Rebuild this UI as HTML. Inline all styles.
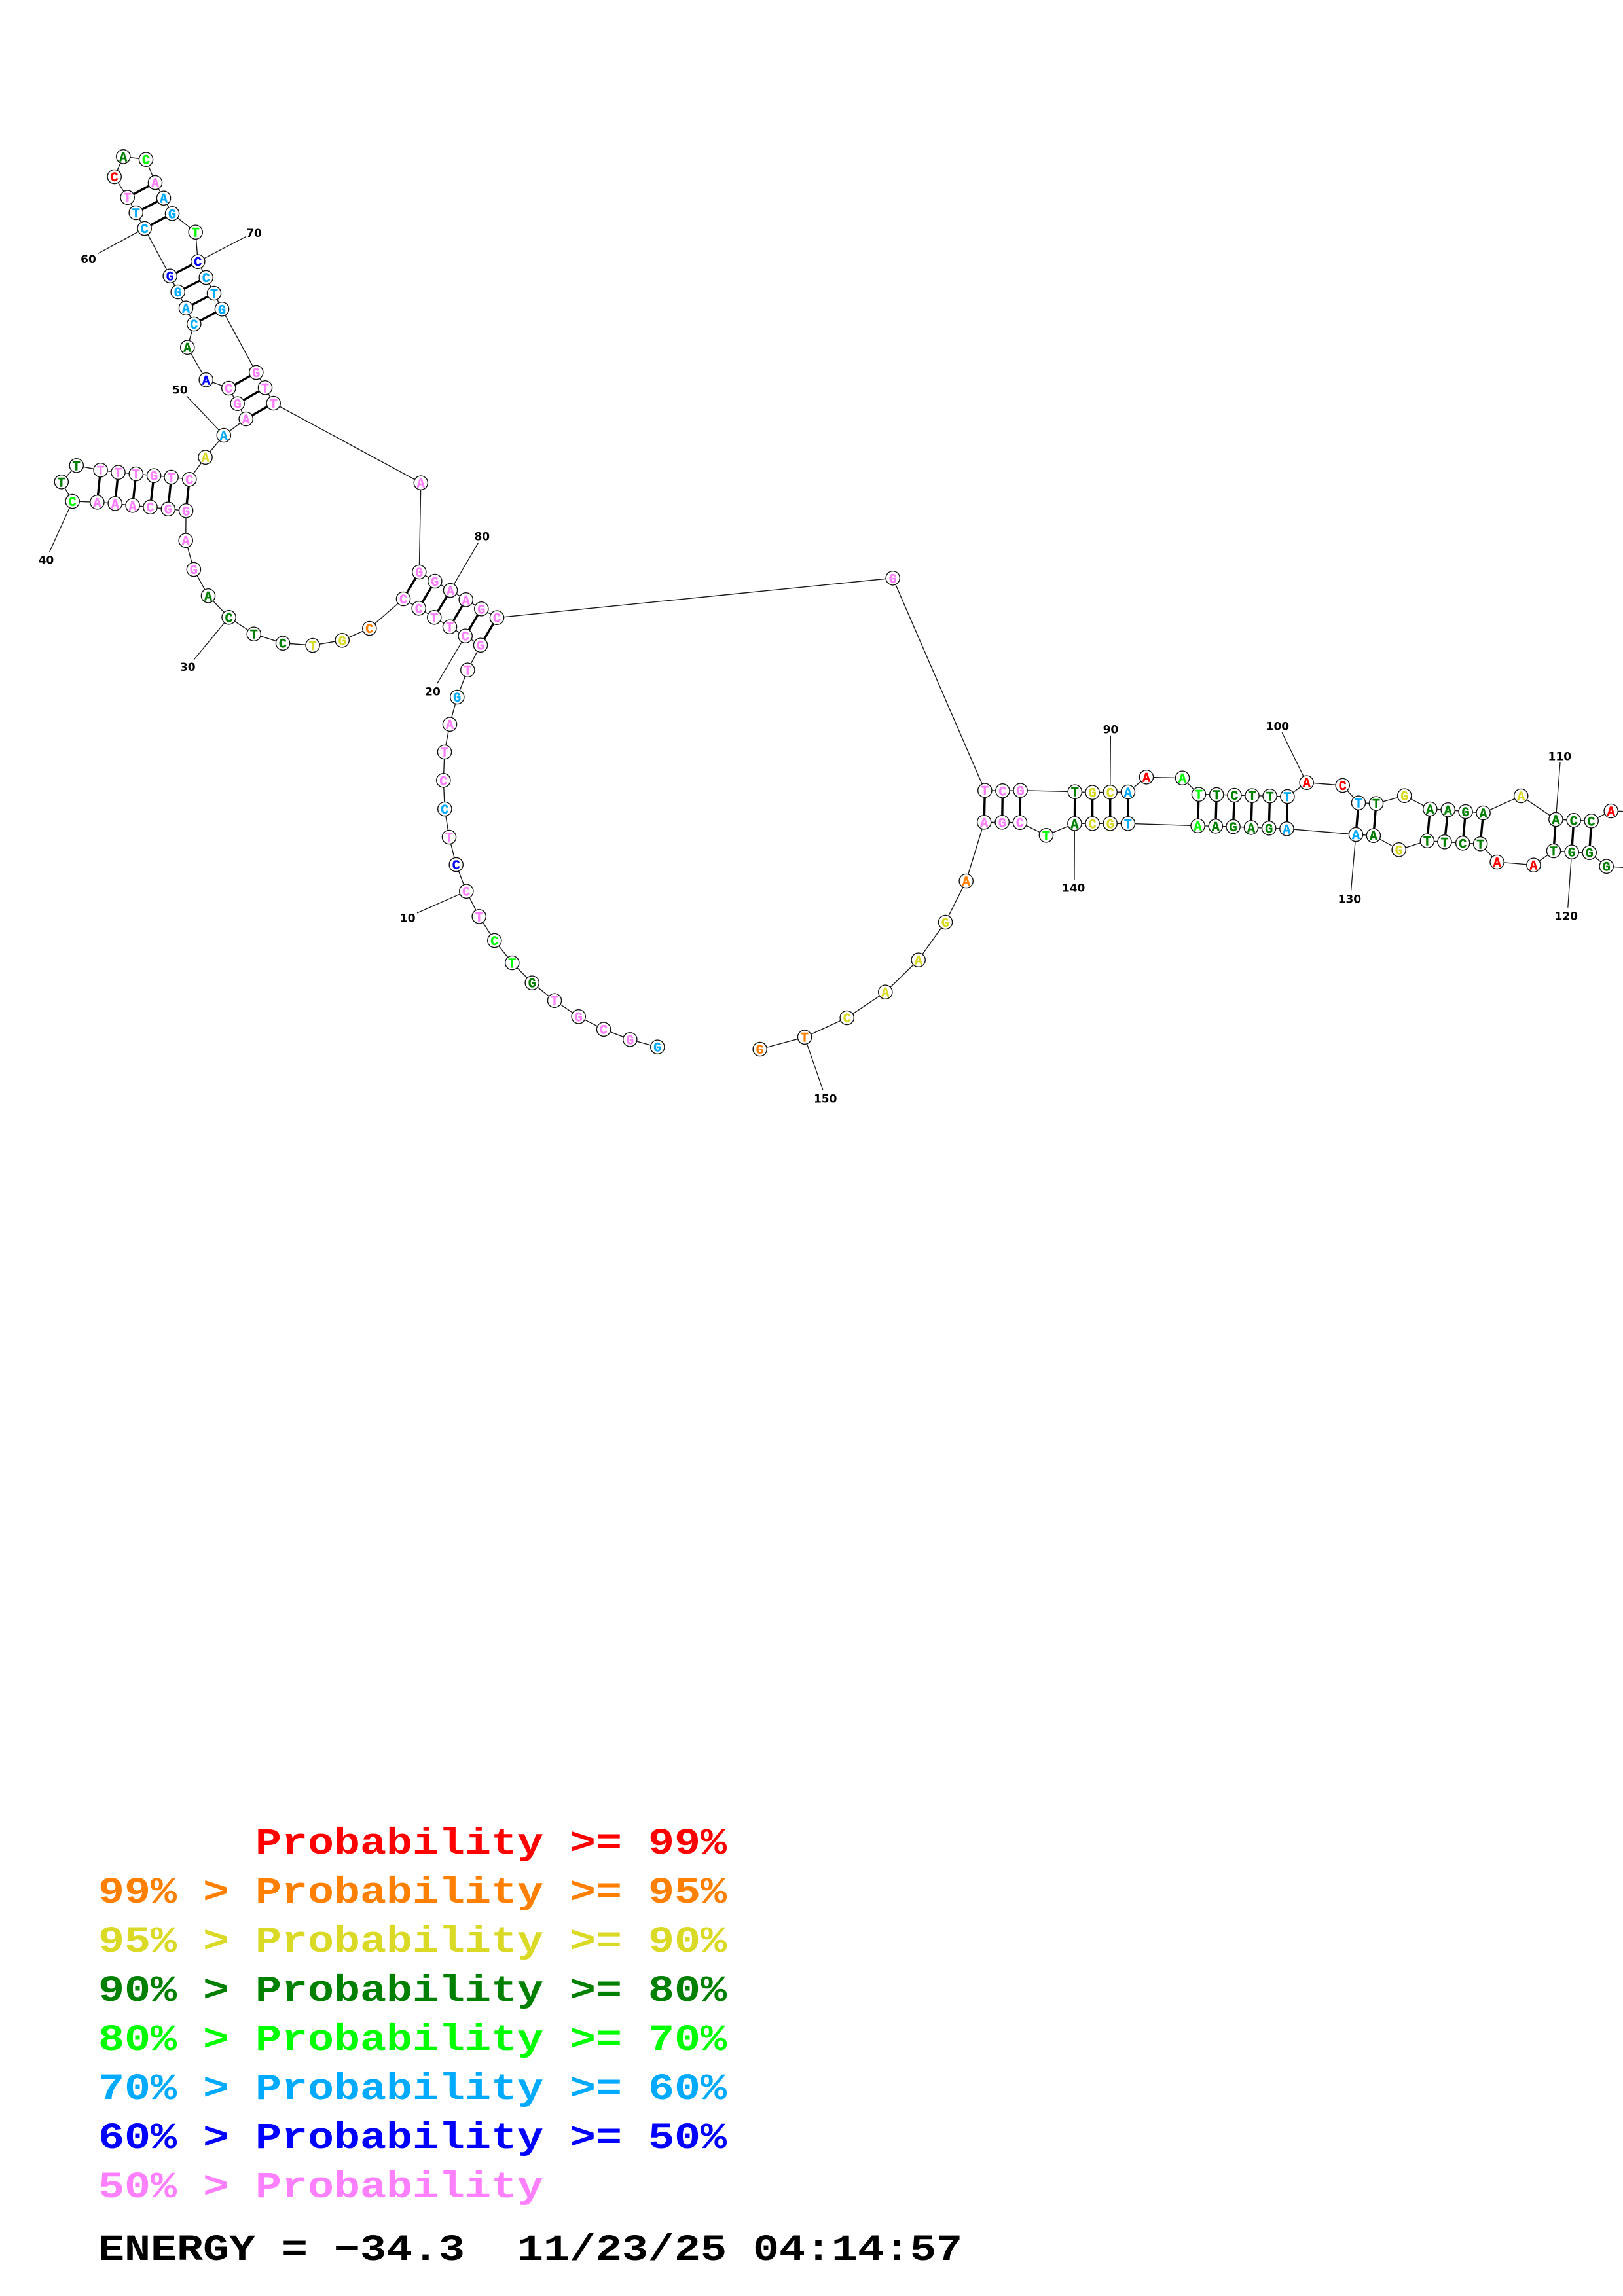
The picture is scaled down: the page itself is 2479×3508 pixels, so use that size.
<!DOCTYPE html>
<html><head><meta charset="utf-8"><title>RNA structure</title>
<style>
html,body{margin:0;padding:0;background:#fff}
svg{display:block}
.bb{fill:none;stroke:#1a1a1a;stroke-width:1.4}
.bp{stroke:#000;stroke-width:3.4;fill:none}
.tk{stroke:#1a1a1a;stroke-width:1.3;fill:none}
.n circle{fill:#fff;stroke:#111;stroke-width:1.4}
.t text{font:bold 20px "Liberation Mono",monospace;text-anchor:middle;stroke-width:.4}
.lb text{font:bold 17px "DejaVu Sans",sans-serif;text-anchor:middle;fill:#000}
.lg text{font:bold 56.6px "Liberation Mono",monospace;white-space:pre}
.r{fill:#f00;stroke:#f00}.o{fill:#ff8000;stroke:#ff8000}.y{fill:#d9d926;stroke:#d9d926}.g{fill:#008000;stroke:#008000}.l{fill:#0f0;stroke:#0f0}.c{fill:#00aaff;stroke:#00aaff}.b{fill:#00f;stroke:#00f}.p{fill:#ff80ff;stroke:#ff80ff}
.lg .r,.lg .o,.lg .y,.lg .g,.lg .l,.lg .c,.lg .b,.lg .p{stroke:none}
</style></head><body>
<svg xmlns="http://www.w3.org/2000/svg" width="2479" height="3508" viewBox="0 0 2479 3508">
<rect width="2479" height="3508" fill="#fff"/>
<polyline class="bb" points="1004.3,1599.7 962.3,1588.3 922,1572.7 883.7,1553.3 847,1528.7 812.7,1501.7 782.3,1471 755.3,1437 731.7,1400.3 712.3,1361.7 696.7,1321 686,1279 679.3,1236 677.3,1192.3 679,1149 687,1106.7 698.3,1065 714.3,1023.7 734,985.7 710.7,971.7 687,957.7 663.3,943.3 639.7,929.3 616,915 564.3,960 522.7,978.3 477.6,986 432,982.7 387.8,968.7 349.6,943.3 318,910.3 295.9,870 283.7,825.7 284.1,780.3 256.8,777.7 229.5,774.7 202.6,772.3 175.7,769.3 148.4,767.3 110.7,766 93.8,736.3 116.8,711.3 153.6,718.3 180.5,721.7 207.8,724 235.1,726.7 261.6,729 289.3,732.3 313.6,698.7 341.8,665 375.7,640 362.7,616.7 349.3,593 314.7,580.3 286.3,530.7 296.3,495 284,470.7 271.7,446 259.7,421.7 220.7,349 207.7,325 194.7,301.7 174.7,270 188.3,239.3 223,243.7 237,279 250,302.7 263,326.3 298.7,354.7 302.3,399.7 314.7,424 327,448 339,472.3 391.3,569 405,592.3 417.7,616 642.8,737.7 640.3,874 664.3,888 688,902 711.7,916.3 735.3,930.3 759,943.7 1363.7,883.3 1504.3,1207.7 1531.4,1208.3 1558.6,1207.7 1641.8,1209.7 1668.6,1210.7 1695.7,1210.3 1722.9,1210 1751,1187.3 1806,1188.7 1831,1213.7 1858.2,1214 1885.4,1215 1912.5,1215.7 1939.6,1216.3 1966.4,1217 1995.7,1195.7 2050.7,1200 2075,1226.7 2102,1227.7 2145.2,1215.7 2184.3,1236 2211.7,1237.3 2238.6,1240 2265.6,1242 2323.2,1216 2376.4,1252 2403.7,1253.3 2430.7,1254.3 2460.7,1239 2490,1240"/>
<polyline class="bb" points="2490,1326 2453.7,1323.7 2427.7,1302.7 2400.7,1301.7 2373,1300 2342.4,1321.7 2286.6,1317 2261.1,1289.3 2234.2,1288.3 2206.5,1286.3 2179.9,1284.7 2136.7,1298.3 2097.9,1276.7 2071,1275 1965.4,1266.3 1938.2,1265.3 1911,1264.3 1883.6,1263 1856.8,1262.3 1829.6,1261.7 1722.9,1258.3 1695.7,1258.3 1668.6,1258.3 1641.4,1258.3 1597.9,1276.3 1557.9,1256.7 1530.7,1256.3 1503.2,1256.3 1475.7,1346 1444,1409 1402.7,1466.7 1352.3,1515.7 1293.7,1555 1229,1584.7 1160.7,1603"/>
<path class="bp" d="M734 985.7L759 943.7M710.7 971.7L735.3 930.3M687 957.7L711.7 916.3M663.3 943.3L688 902M639.7 929.3L664.3 888M616 915L640.3 874M284.1 780.3L289.3 732.3M256.8 777.7L261.6 729M229.5 774.7L235.1 726.7M202.6 772.3L207.8 724M175.7 769.3L180.5 721.7M148.4 767.3L153.6 718.3M375.7 640L417.7 616M362.7 616.7L405 592.3M349.3 593L391.3 569M296.3 495L339 472.3M284 470.7L327 448M271.7 446L314.7 424M259.7 421.7L302.3 399.7M220.7 349L263 326.3M207.7 325L250 302.7M194.7 301.7L237 279M1504.3 1207.7L1503.2 1256.3M1531.4 1208.3L1530.7 1256.3M1558.6 1207.7L1557.9 1256.7M1641.8 1209.7L1641.4 1258.3M1668.6 1210.7V1258.3M1695.7 1210.3V1258.3M1722.9 1210V1258.3M1831 1213.7L1829.6 1261.7M1858.2 1214L1856.8 1262.3M1885.4 1215L1883.6 1263M1912.5 1215.7L1911 1264.3M1939.6 1216.3L1938.2 1265.3M1966.4 1217L1965.4 1266.3M2075 1226.7L2071 1275M2102 1227.7L2097.9 1276.7M2184.3 1236L2179.9 1284.7M2211.7 1237.3L2206.5 1286.3M2238.6 1240L2234.2 1288.3M2265.6 1242L2261.1 1289.3M2376.4 1252L2373 1300M2403.7 1253.3L2400.7 1301.7M2430.7 1254.3L2427.7 1302.7"/>
<path class="tk" d="M712.3 1361.7L637 1395M710.7 971.7L667.7 1044.3M349.6 943.3L296.7 1007.3M110.7 766L75.6 843.3M341.8 665L285.3 605.3M220.7 349L149 387.7M302.3 399.7L376 361.3M688 902L730.7 829M1695.7 1210.3L1696.4 1123.7M1995.7 1195.7L1958.2 1119.3M2376.4 1252L2383 1164.7M2400.7 1301.7L2394.8 1386.7M2071 1275L2063.6 1360.7M1641.4 1258.3L1641 1344.3M1229 1584.7L1257 1665.7"/>
<g class="n">
<circle cx="1004.3" cy="1599.7" r="10.6"/><circle cx="962.3" cy="1588.3" r="10.6"/><circle cx="922" cy="1572.7" r="10.6"/><circle cx="883.7" cy="1553.3" r="10.6"/><circle cx="847" cy="1528.7" r="10.6"/><circle cx="812.7" cy="1501.7" r="10.6"/><circle cx="782.3" cy="1471" r="10.6"/><circle cx="755.3" cy="1437" r="10.6"/><circle cx="731.7" cy="1400.3" r="10.6"/><circle cx="712.3" cy="1361.7" r="10.6"/>
<circle cx="696.7" cy="1321" r="10.6"/><circle cx="686" cy="1279" r="10.6"/><circle cx="679.3" cy="1236" r="10.6"/><circle cx="677.3" cy="1192.3" r="10.6"/><circle cx="679" cy="1149" r="10.6"/><circle cx="687" cy="1106.7" r="10.6"/><circle cx="698.3" cy="1065" r="10.6"/><circle cx="714.3" cy="1023.7" r="10.6"/><circle cx="734" cy="985.7" r="10.6"/><circle cx="710.7" cy="971.7" r="10.6"/>
<circle cx="687" cy="957.7" r="10.6"/><circle cx="663.3" cy="943.3" r="10.6"/><circle cx="639.7" cy="929.3" r="10.6"/><circle cx="616" cy="915" r="10.6"/><circle cx="564.3" cy="960" r="10.6"/><circle cx="522.7" cy="978.3" r="10.6"/><circle cx="477.6" cy="986" r="10.6"/><circle cx="432" cy="982.7" r="10.6"/><circle cx="387.8" cy="968.7" r="10.6"/><circle cx="349.6" cy="943.3" r="10.6"/>
<circle cx="318" cy="910.3" r="10.6"/><circle cx="295.9" cy="870" r="10.6"/><circle cx="283.7" cy="825.7" r="10.6"/><circle cx="284.1" cy="780.3" r="10.6"/><circle cx="256.8" cy="777.7" r="10.6"/><circle cx="229.5" cy="774.7" r="10.6"/><circle cx="202.6" cy="772.3" r="10.6"/><circle cx="175.7" cy="769.3" r="10.6"/><circle cx="148.4" cy="767.3" r="10.6"/><circle cx="110.7" cy="766" r="10.6"/>
<circle cx="93.8" cy="736.3" r="10.6"/><circle cx="116.8" cy="711.3" r="10.6"/><circle cx="153.6" cy="718.3" r="10.6"/><circle cx="180.5" cy="721.7" r="10.6"/><circle cx="207.8" cy="724" r="10.6"/><circle cx="235.1" cy="726.7" r="10.6"/><circle cx="261.6" cy="729" r="10.6"/><circle cx="289.3" cy="732.3" r="10.6"/><circle cx="313.6" cy="698.7" r="10.6"/><circle cx="341.8" cy="665" r="10.6"/>
<circle cx="375.7" cy="640" r="10.6"/><circle cx="362.7" cy="616.7" r="10.6"/><circle cx="349.3" cy="593" r="10.6"/><circle cx="314.7" cy="580.3" r="10.6"/><circle cx="286.3" cy="530.7" r="10.6"/><circle cx="296.3" cy="495" r="10.6"/><circle cx="284" cy="470.7" r="10.6"/><circle cx="271.7" cy="446" r="10.6"/><circle cx="259.7" cy="421.7" r="10.6"/><circle cx="220.7" cy="349" r="10.6"/>
<circle cx="207.7" cy="325" r="10.6"/><circle cx="194.7" cy="301.7" r="10.6"/><circle cx="174.7" cy="270" r="10.6"/><circle cx="188.3" cy="239.3" r="10.6"/><circle cx="223" cy="243.7" r="10.6"/><circle cx="237" cy="279" r="10.6"/><circle cx="250" cy="302.7" r="10.6"/><circle cx="263" cy="326.3" r="10.6"/><circle cx="298.7" cy="354.7" r="10.6"/><circle cx="302.3" cy="399.7" r="10.6"/>
<circle cx="314.7" cy="424" r="10.6"/><circle cx="327" cy="448" r="10.6"/><circle cx="339" cy="472.3" r="10.6"/><circle cx="391.3" cy="569" r="10.6"/><circle cx="405" cy="592.3" r="10.6"/><circle cx="417.7" cy="616" r="10.6"/><circle cx="642.8" cy="737.7" r="10.6"/><circle cx="640.3" cy="874" r="10.6"/><circle cx="664.3" cy="888" r="10.6"/><circle cx="688" cy="902" r="10.6"/>
<circle cx="711.7" cy="916.3" r="10.6"/><circle cx="735.3" cy="930.3" r="10.6"/><circle cx="759" cy="943.7" r="10.6"/><circle cx="1363.7" cy="883.3" r="10.6"/><circle cx="1504.3" cy="1207.7" r="10.6"/><circle cx="1531.4" cy="1208.3" r="10.6"/><circle cx="1558.6" cy="1207.7" r="10.6"/><circle cx="1641.8" cy="1209.7" r="10.6"/><circle cx="1668.6" cy="1210.7" r="10.6"/><circle cx="1695.7" cy="1210.3" r="10.6"/>
<circle cx="1722.9" cy="1210" r="10.6"/><circle cx="1751" cy="1187.3" r="10.6"/><circle cx="1806" cy="1188.7" r="10.6"/><circle cx="1831" cy="1213.7" r="10.6"/><circle cx="1858.2" cy="1214" r="10.6"/><circle cx="1885.4" cy="1215" r="10.6"/><circle cx="1912.5" cy="1215.7" r="10.6"/><circle cx="1939.6" cy="1216.3" r="10.6"/><circle cx="1966.4" cy="1217" r="10.6"/><circle cx="1995.7" cy="1195.7" r="10.6"/>
<circle cx="2050.7" cy="1200" r="10.6"/><circle cx="2075" cy="1226.7" r="10.6"/><circle cx="2102" cy="1227.7" r="10.6"/><circle cx="2145.2" cy="1215.7" r="10.6"/><circle cx="2184.3" cy="1236" r="10.6"/><circle cx="2211.7" cy="1237.3" r="10.6"/><circle cx="2238.6" cy="1240" r="10.6"/><circle cx="2265.6" cy="1242" r="10.6"/><circle cx="2323.2" cy="1216" r="10.6"/><circle cx="2376.4" cy="1252" r="10.6"/>
<circle cx="2403.7" cy="1253.3" r="10.6"/><circle cx="2430.7" cy="1254.3" r="10.6"/><circle cx="2460.7" cy="1239" r="10.6"/><circle cx="2453.7" cy="1323.7" r="10.6"/><circle cx="2427.7" cy="1302.7" r="10.6"/><circle cx="2400.7" cy="1301.7" r="10.6"/><circle cx="2373" cy="1300" r="10.6"/><circle cx="2342.4" cy="1321.7" r="10.6"/><circle cx="2286.6" cy="1317" r="10.6"/><circle cx="2261.1" cy="1289.3" r="10.6"/>
<circle cx="2234.2" cy="1288.3" r="10.6"/><circle cx="2206.5" cy="1286.3" r="10.6"/><circle cx="2179.9" cy="1284.7" r="10.6"/><circle cx="2136.7" cy="1298.3" r="10.6"/><circle cx="2097.9" cy="1276.7" r="10.6"/><circle cx="2071" cy="1275" r="10.6"/><circle cx="1965.4" cy="1266.3" r="10.6"/><circle cx="1938.2" cy="1265.3" r="10.6"/><circle cx="1911" cy="1264.3" r="10.6"/><circle cx="1883.6" cy="1263" r="10.6"/>
<circle cx="1856.8" cy="1262.3" r="10.6"/><circle cx="1829.6" cy="1261.7" r="10.6"/><circle cx="1722.9" cy="1258.3" r="10.6"/><circle cx="1695.7" cy="1258.3" r="10.6"/><circle cx="1668.6" cy="1258.3" r="10.6"/><circle cx="1641.4" cy="1258.3" r="10.6"/><circle cx="1597.9" cy="1276.3" r="10.6"/><circle cx="1557.9" cy="1256.7" r="10.6"/><circle cx="1530.7" cy="1256.3" r="10.6"/><circle cx="1503.2" cy="1256.3" r="10.6"/>
<circle cx="1475.7" cy="1346" r="10.6"/><circle cx="1444" cy="1409" r="10.6"/><circle cx="1402.7" cy="1466.7" r="10.6"/><circle cx="1352.3" cy="1515.7" r="10.6"/><circle cx="1293.7" cy="1555" r="10.6"/><circle cx="1229" cy="1584.7" r="10.6"/><circle cx="1160.7" cy="1603" r="10.6"/>
</g>
<g class="t">
<text x="1004.3" y="1606.7" class="c">G</text><text x="962.3" y="1595.3" class="p">G</text><text x="922" y="1579.7" class="p">C</text><text x="883.7" y="1560.3" class="p">G</text><text x="847" y="1535.7" class="p">T</text><text x="812.7" y="1508.7" class="g">G</text><text x="782.3" y="1478" class="l">T</text><text x="755.3" y="1444" class="l">C</text><text x="731.7" y="1407.3" class="p">T</text><text x="712.3" y="1368.7" class="p">C</text>
<text x="696.7" y="1328" class="b">C</text><text x="686" y="1286" class="p">T</text><text x="679.3" y="1243" class="c">C</text><text x="677.3" y="1199.3" class="p">C</text><text x="679" y="1156" class="p">T</text><text x="687" y="1113.7" class="p">A</text><text x="698.3" y="1072" class="c">G</text><text x="714.3" y="1030.7" class="p">T</text><text x="734" y="992.7" class="p">G</text><text x="710.7" y="978.7" class="p">C</text>
<text x="687" y="964.7" class="p">T</text><text x="663.3" y="950.3" class="p">T</text><text x="639.7" y="936.3" class="p">C</text><text x="616" y="922" class="p">C</text><text x="564.3" y="967" class="o">C</text><text x="522.7" y="985.3" class="y">G</text><text x="477.6" y="993" class="y">T</text><text x="432" y="989.7" class="g">C</text><text x="387.8" y="975.7" class="g">T</text><text x="349.6" y="950.3" class="g">C</text>
<text x="318" y="917.3" class="g">A</text><text x="295.9" y="877" class="p">G</text><text x="283.7" y="832.7" class="p">A</text><text x="284.1" y="787.3" class="p">G</text><text x="256.8" y="784.7" class="p">G</text><text x="229.5" y="781.7" class="p">C</text><text x="202.6" y="779.3" class="p">A</text><text x="175.7" y="776.3" class="p">A</text><text x="148.4" y="774.3" class="p">A</text><text x="110.7" y="773" class="l">C</text>
<text x="93.8" y="743.3" class="g">T</text><text x="116.8" y="718.3" class="g">T</text><text x="153.6" y="725.3" class="p">T</text><text x="180.5" y="728.7" class="p">T</text><text x="207.8" y="731" class="p">T</text><text x="235.1" y="733.7" class="p">G</text><text x="261.6" y="736" class="p">T</text><text x="289.3" y="739.3" class="p">C</text><text x="313.6" y="705.7" class="y">A</text><text x="341.8" y="672" class="c">A</text>
<text x="375.7" y="647" class="p">A</text><text x="362.7" y="623.7" class="p">G</text><text x="349.3" y="600" class="p">C</text><text x="314.7" y="587.3" class="b">A</text><text x="286.3" y="537.7" class="g">A</text><text x="296.3" y="502" class="c">C</text><text x="284" y="477.7" class="c">A</text><text x="271.7" y="453" class="c">G</text><text x="259.7" y="428.7" class="b">G</text><text x="220.7" y="356" class="c">C</text>
<text x="207.7" y="332" class="c">T</text><text x="194.7" y="308.7" class="p">T</text><text x="174.7" y="277" class="r">C</text><text x="188.3" y="246.3" class="g">A</text><text x="223" y="250.7" class="l">C</text><text x="237" y="286" class="p">A</text><text x="250" y="309.7" class="c">A</text><text x="263" y="333.3" class="c">G</text><text x="298.7" y="361.7" class="l">T</text><text x="302.3" y="406.7" class="b">C</text>
<text x="314.7" y="431" class="c">C</text><text x="327" y="455" class="c">T</text><text x="339" y="479.3" class="c">G</text><text x="391.3" y="576" class="p">G</text><text x="405" y="599.3" class="p">T</text><text x="417.7" y="623" class="p">T</text><text x="642.8" y="744.7" class="p">A</text><text x="640.3" y="881" class="p">G</text><text x="664.3" y="895" class="p">G</text><text x="688" y="909" class="p">A</text>
<text x="711.7" y="923.3" class="p">A</text><text x="735.3" y="937.3" class="p">G</text><text x="759" y="950.7" class="p">C</text><text x="1363.7" y="890.3" class="p">G</text><text x="1504.3" y="1214.7" class="p">T</text><text x="1531.4" y="1215.3" class="p">C</text><text x="1558.6" y="1214.7" class="p">G</text><text x="1641.8" y="1216.7" class="g">T</text><text x="1668.6" y="1217.7" class="y">G</text><text x="1695.7" y="1217.3" class="y">C</text>
<text x="1722.9" y="1217" class="c">A</text><text x="1751" y="1194.3" class="r">A</text><text x="1806" y="1195.7" class="l">A</text><text x="1831" y="1220.7" class="l">T</text><text x="1858.2" y="1221" class="g">T</text><text x="1885.4" y="1222" class="g">C</text><text x="1912.5" y="1222.7" class="g">T</text><text x="1939.6" y="1223.3" class="g">T</text><text x="1966.4" y="1224" class="c">T</text><text x="1995.7" y="1202.7" class="r">A</text>
<text x="2050.7" y="1207" class="r">C</text><text x="2075" y="1233.7" class="c">T</text><text x="2102" y="1234.7" class="g">T</text><text x="2145.2" y="1222.7" class="y">G</text><text x="2184.3" y="1243" class="g">A</text><text x="2211.7" y="1244.3" class="g">A</text><text x="2238.6" y="1247" class="g">G</text><text x="2265.6" y="1249" class="g">A</text><text x="2323.2" y="1223" class="y">A</text><text x="2376.4" y="1259" class="g">A</text>
<text x="2403.7" y="1260.3" class="g">C</text><text x="2430.7" y="1261.3" class="g">C</text><text x="2460.7" y="1246" class="r">A</text><text x="2453.7" y="1330.7" class="g">G</text><text x="2427.7" y="1309.7" class="g">G</text><text x="2400.7" y="1308.7" class="g">G</text><text x="2373" y="1307" class="g">T</text><text x="2342.4" y="1328.7" class="r">A</text><text x="2286.6" y="1324" class="r">A</text><text x="2261.1" y="1296.3" class="g">T</text>
<text x="2234.2" y="1295.3" class="g">C</text><text x="2206.5" y="1293.3" class="g">T</text><text x="2179.9" y="1291.7" class="g">T</text><text x="2136.7" y="1305.3" class="y">G</text><text x="2097.9" y="1283.7" class="g">A</text><text x="2071" y="1282" class="c">A</text><text x="1965.4" y="1273.3" class="c">A</text><text x="1938.2" y="1272.3" class="g">G</text><text x="1911" y="1271.3" class="g">A</text><text x="1883.6" y="1270" class="g">G</text>
<text x="1856.8" y="1269.3" class="g">A</text><text x="1829.6" y="1268.7" class="l">A</text><text x="1722.9" y="1265.3" class="c">T</text><text x="1695.7" y="1265.3" class="y">G</text><text x="1668.6" y="1265.3" class="y">C</text><text x="1641.4" y="1265.3" class="g">A</text><text x="1597.9" y="1283.3" class="l">T</text><text x="1557.9" y="1263.7" class="p">C</text><text x="1530.7" y="1263.3" class="p">G</text><text x="1503.2" y="1263.3" class="p">A</text>
<text x="1475.7" y="1353" class="o">A</text><text x="1444" y="1416" class="y">G</text><text x="1402.7" y="1473.7" class="y">A</text><text x="1352.3" y="1522.7" class="y">A</text><text x="1293.7" y="1562" class="y">C</text><text x="1229" y="1591.7" class="o">T</text><text x="1160.7" y="1610" class="o">G</text>
</g>
<g class="lb">
<text x="622.7" y="1408.5">10</text><text x="661" y="1062.5">20</text><text x="286.7" y="1025.2">30</text><text x="70.4" y="861.5">40</text><text x="274.7" y="601.5">50</text><text x="135" y="402.2">60</text><text x="388" y="362.2">70</text><text x="736.3" y="825.5">80</text><text x="1696.4" y="1120.5">90</text><text x="1951.4" y="1115.5">100</text><text x="2382.3" y="1161.5">110</text><text x="2392.2" y="1405.5">120</text><text x="2061.4" y="1379.5">130</text><text x="1639.6" y="1362.5">140</text><text x="1260.7" y="1684.5">150</text>
</g>
<g class="lg">
<text transform="translate(390,2832) scale(1.178,1)" class="r" xml:space="preserve">Probability &gt;= 99%</text>
<text transform="translate(150,2907) scale(1.178,1)" class="o" xml:space="preserve">99% &gt; Probability &gt;= 95%</text>
<text transform="translate(150,2982) scale(1.178,1)" class="y" xml:space="preserve">95% &gt; Probability &gt;= 90%</text>
<text transform="translate(150,3057) scale(1.178,1)" class="g" xml:space="preserve">90% &gt; Probability &gt;= 80%</text>
<text transform="translate(150,3132) scale(1.178,1)" class="l" xml:space="preserve">80% &gt; Probability &gt;= 70%</text>
<text transform="translate(150,3207) scale(1.178,1)" class="c" xml:space="preserve">70% &gt; Probability &gt;= 60%</text>
<text transform="translate(150,3282) scale(1.178,1)" class="b" xml:space="preserve">60% &gt; Probability &gt;= 50%</text>
<text transform="translate(150,3357) scale(1.178,1)" class="p" xml:space="preserve">50% &gt; Probability</text>
<text transform="translate(150,3453) scale(1.178,1)" fill="#000" xml:space="preserve">ENERGY = −34.3  11/23/25 04:14:57</text>
</g>
</svg>
</body></html>
